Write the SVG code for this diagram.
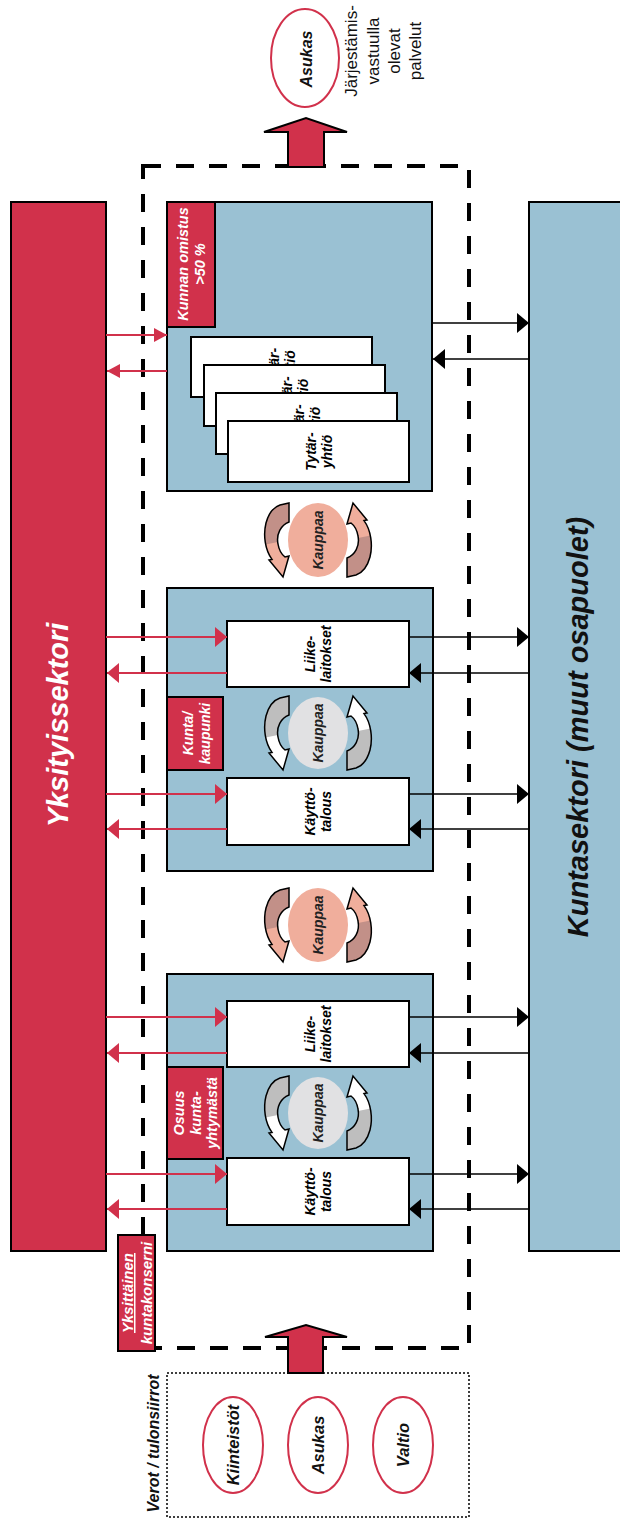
<svg xmlns="http://www.w3.org/2000/svg" width="620" height="1527" viewBox="0 0 620 1527">
<style>
text{font-family:"Liberation Sans",Arial,sans-serif}
.bi{font-weight:bold;font-style:italic}
.red{fill:#D1314B;stroke:#000;stroke-width:2}
.blue{fill:#9AC1D3;stroke:#000;stroke-width:2}
.wbox{fill:#fff;stroke:#000;stroke-width:2}
.wt{fill:#fff}
.rl{stroke:#D1314B;stroke-width:2;fill:none}
.bl{stroke:#000;stroke-width:1.5;fill:none}
.oval{fill:#fff;stroke:#D1314B;stroke-width:2}
.bigarrow{fill:#D1314B;stroke:#000;stroke-width:2;stroke-linejoin:miter}
</style>
<defs>
<marker id="rh" viewBox="0 0 12 20" refX="12" refY="10" markerWidth="12" markerHeight="20" markerUnits="userSpaceOnUse" orient="auto"><path d="M0,0L12,10L0,20Z" fill="#D1314B"/></marker>
<marker id="rhs" viewBox="0 0 13 14" refX="13" refY="7" markerWidth="13" markerHeight="14" markerUnits="userSpaceOnUse" orient="auto"><path d="M0,0L13,7L0,14Z" fill="#D1314B"/></marker>
<marker id="bh" viewBox="0 0 12 20" refX="12" refY="10" markerWidth="12" markerHeight="20" markerUnits="userSpaceOnUse" orient="auto"><path d="M0,0L12,10L0,20Z" fill="#000"/></marker>
<clipPath id="ctop"><polygon points="-60,-45 -20,-45 -20,-2 -60,6"/></clipPath>
<path id="curl" d="M-38,-35 L-29,-37 L-29,-18 C-37,-15 -42,-6 -40,4 C-39,10 -37,14 -33,17 L-29,16 L-35,37 L-49,20 L-46,19.4 C-53,10 -55,-5 -52,-17 C-49,-28 -44,-33 -38,-35Z"/>
<g id="curlS"><use href="#curl" fill="#F0AE9C"/><use href="#curl" fill="#C29088" clip-path="url(#ctop)"/><use href="#curl" fill="none" stroke="#000" stroke-width="1.5"/></g>
<g id="curlG"><use href="#curl" fill="#fff"/><use href="#curl" fill="#BEBEBE" clip-path="url(#ctop)"/><use href="#curl" fill="none" stroke="#000" stroke-width="1.5"/></g>
</defs>

<g id="yksityissektori">
<rect x="11" y="202" width="95" height="1049" class="red" stroke-width="1.5"/>
<text class="bi wt" font-size="29" text-anchor="middle" transform="translate(68,725) rotate(-90)">Yksityissektori</text>
</g>

<g id="kuntasektori">
<rect x="529" y="202" width="95" height="1049" class="blue" stroke-width="1.5"/>
<text class="bi" font-size="29" fill="#111" text-anchor="middle" transform="translate(588,727) rotate(-90)">Kuntasektori (muut osapuolet)</text>
</g>

<g id="kuntakonserni-raja">
<rect x="143" y="166" width="326" height="1182" fill="none" stroke="#000" stroke-width="4" stroke-dasharray="18 15"/>
</g>

<g id="tytaryhtiot">
<rect x="167" y="202" width="265" height="289" class="blue"/>
<rect x="191" y="337" width="181" height="60" class="wbox"/>
<text class="bi" font-size="14" text-anchor="middle" transform="translate(281.5,367) rotate(-90)"><tspan x="0" y="-3">Tytär-</tspan><tspan x="0" y="13">yhtiö</tspan></text>
<rect x="204" y="365" width="181" height="61" class="wbox"/>
<text class="bi" font-size="14" text-anchor="middle" transform="translate(294.5,395.5) rotate(-90)"><tspan x="0" y="-3">Tytär-</tspan><tspan x="0" y="13">yhtiö</tspan></text>
<rect x="216" y="393" width="181" height="61" class="wbox"/>
<text class="bi" font-size="14" text-anchor="middle" transform="translate(306.5,423.5) rotate(-90)"><tspan x="0" y="-3">Tytär-</tspan><tspan x="0" y="13">yhtiö</tspan></text>
<rect x="228" y="421" width="181" height="61" class="wbox"/>
<text class="bi" font-size="14" text-anchor="middle" transform="translate(318.5,451.5) rotate(-90)"><tspan x="0" y="-3">Tytär-</tspan><tspan x="0" y="13">yhtiö</tspan></text>
<rect x="167" y="202" width="48" height="125" class="red"/>
<text class="bi wt" font-size="14.5" text-anchor="middle" transform="translate(191,264) rotate(-90)"><tspan x="0" y="-3">Kunnan omistus</tspan><tspan x="0" y="14">&gt;50 %</tspan></text>
</g>

<g id="kauppaa-1">
<use href="#curlS" transform="translate(318,540)"/>
<use href="#curlS" transform="translate(318,540) rotate(180)"/>
<ellipse cx="318" cy="540" rx="30" ry="37" fill="#F0AE9C"/>
<text class="bi" font-size="14" fill="#222" text-anchor="middle" transform="translate(323,540) rotate(-90)">Kauppaa</text>
</g>

<g id="kunta-kaupunki">
<rect x="167" y="588" width="266" height="283" class="blue"/>
<rect x="227" y="621" width="182" height="66" class="wbox"/>
<text class="bi" font-size="14" text-anchor="middle" transform="translate(318,654) rotate(-90)"><tspan x="0" y="-3">Liike-</tspan><tspan x="0" y="13">laitokset</tspan></text>
<rect x="227" y="778" width="182" height="67" class="wbox"/>
<text class="bi" font-size="14" text-anchor="middle" transform="translate(318,811.5) rotate(-90)"><tspan x="0" y="-3">Käyttö-</tspan><tspan x="0" y="13">talous</tspan></text>
<rect x="167" y="697" width="56" height="73" class="red"/>
<text class="bi wt" font-size="14" text-anchor="middle" transform="translate(195,733.5) rotate(-90)"><tspan x="0" y="-2">Kunta/</tspan><tspan x="0" y="15">kaupunki</tspan></text>
<use href="#curlG" transform="translate(318,733)"/>
<use href="#curlG" transform="translate(318,733) rotate(180)"/>
<ellipse cx="318" cy="733" rx="30" ry="36" fill="#E1E1E3"/>
<text class="bi" font-size="14" fill="#222" text-anchor="middle" transform="translate(323,733) rotate(-90)">Kauppaa</text>
</g>

<g id="kauppaa-2">
<use href="#curlS" transform="translate(318,925)"/>
<use href="#curlS" transform="translate(318,925) rotate(180)"/>
<ellipse cx="318" cy="925" rx="30" ry="37" fill="#F0AE9C"/>
<text class="bi" font-size="14" fill="#222" text-anchor="middle" transform="translate(323,925) rotate(-90)">Kauppaa</text>
</g>

<g id="kuntayhtyma">
<rect x="167" y="974" width="266" height="277" class="blue"/>
<rect x="227" y="1001" width="182" height="66" class="wbox"/>
<text class="bi" font-size="14" text-anchor="middle" transform="translate(318,1034) rotate(-90)"><tspan x="0" y="-3">Liike-</tspan><tspan x="0" y="13">laitokset</tspan></text>
<rect x="227" y="1158" width="182" height="67" class="wbox"/>
<text class="bi" font-size="14" text-anchor="middle" transform="translate(318,1191.5) rotate(-90)"><tspan x="0" y="-3">Käyttö-</tspan><tspan x="0" y="13">talous</tspan></text>
<rect x="167" y="1067" width="56" height="92" class="red"/>
<text class="bi wt" font-size="14.5" text-anchor="middle" transform="translate(195,1113) rotate(-90)"><tspan x="0" y="-11">Osuus</tspan><tspan x="0" y="5.5">kunta-</tspan><tspan x="0" y="22">yhtymästä</tspan></text>
<use href="#curlG" transform="translate(318,1113)"/>
<use href="#curlG" transform="translate(318,1113) rotate(180)"/>
<ellipse cx="318" cy="1113" rx="30" ry="36" fill="#E1E1E3"/>
<text class="bi" font-size="14" fill="#222" text-anchor="middle" transform="translate(323,1113) rotate(-90)">Kauppaa</text>
</g>

<g id="yksittainen-kuntakonserni">
<rect x="118" y="1235" width="37" height="116" class="red"/>
<text class="bi wt" font-size="15" text-anchor="middle" transform="translate(136.5,1293) rotate(-90)"><tspan x="0" y="-3.5" text-decoration="underline">Yksittäinen</tspan><tspan x="0" y="15.5">kuntakonserni</tspan></text>
</g>

<g id="connectors">
<line x1="106" y1="335" x2="167" y2="335" class="rl" marker-end="url(#rhs)"/>
<line x1="167" y1="371" x2="107" y2="371" class="rl" marker-end="url(#rhs)"/>
<line x1="106" y1="637" x2="227" y2="637" class="rl" marker-end="url(#rh)"/>
<line x1="227" y1="673" x2="107" y2="673" class="rl" marker-end="url(#rh)"/>
<line x1="106" y1="794" x2="227" y2="794" class="rl" marker-end="url(#rh)"/>
<line x1="227" y1="829" x2="107" y2="829" class="rl" marker-end="url(#rh)"/>
<line x1="106" y1="1017" x2="227" y2="1017" class="rl" marker-end="url(#rh)"/>
<line x1="227" y1="1053" x2="107" y2="1053" class="rl" marker-end="url(#rh)"/>
<line x1="106" y1="1174" x2="227" y2="1174" class="rl" marker-end="url(#rh)"/>
<line x1="227" y1="1209" x2="107" y2="1209" class="rl" marker-end="url(#rh)"/>
<line x1="432" y1="323" x2="529" y2="323" class="bl" marker-end="url(#bh)"/>
<line x1="529" y1="359" x2="433" y2="359" class="bl" marker-end="url(#bh)"/>
<line x1="409" y1="637" x2="529" y2="637" class="bl" marker-end="url(#bh)"/>
<line x1="529" y1="673" x2="409" y2="673" class="bl" marker-end="url(#bh)"/>
<line x1="409" y1="794" x2="529" y2="794" class="bl" marker-end="url(#bh)"/>
<line x1="529" y1="829" x2="409" y2="829" class="bl" marker-end="url(#bh)"/>
<line x1="409" y1="1017" x2="529" y2="1017" class="bl" marker-end="url(#bh)"/>
<line x1="529" y1="1053" x2="409" y2="1053" class="bl" marker-end="url(#bh)"/>
<line x1="409" y1="1174" x2="529" y2="1174" class="bl" marker-end="url(#bh)"/>
<line x1="529" y1="1209" x2="409" y2="1209" class="bl" marker-end="url(#bh)"/>
<polygon class="bigarrow" points="288,167 288,132 264,132 306,118 347,132 324,132 324,167"/>
<polygon class="bigarrow" points="288,1373 288,1337 265,1337 306,1325 347,1337 323,1337 323,1373"/>
</g>

<g id="asukas-palvelut">
<ellipse cx="305" cy="58" rx="34" ry="49" class="oval"/>
<text class="bi" font-size="16" fill="#111" text-anchor="middle" transform="translate(312,59) rotate(-90)">Asukas</text>
<text font-size="17" fill="#111" text-anchor="middle" transform="translate(357,51) rotate(-90)"><tspan x="0" y="0">Järjestämis-</tspan><tspan x="0" y="22">vastuulla</tspan><tspan x="0" y="43">olevat</tspan><tspan x="0" y="64">palvelut</tspan></text>
</g>

<g id="verot-tulonsiirrot">
<rect x="167" y="1373" width="302" height="144" fill="none" stroke="#000" stroke-width="1.5" stroke-dasharray="2 2"/>
<text class="bi" font-size="16" fill="#111" text-anchor="middle" transform="translate(159,1443.5) rotate(-90)">Verot / tulonsiirrot</text>
<ellipse cx="233" cy="1445" rx="30" ry="48" class="oval"/>
<text class="bi" font-size="16.5" fill="#111" text-anchor="middle" transform="translate(239,1445) rotate(-90)">Kiinteistöt</text>
<ellipse cx="318" cy="1445" rx="30" ry="48" class="oval"/>
<text class="bi" font-size="16.5" fill="#111" text-anchor="middle" transform="translate(324,1445) rotate(-90)">Asukas</text>
<ellipse cx="403" cy="1445" rx="30" ry="48" class="oval"/>
<text class="bi" font-size="16.5" fill="#111" text-anchor="middle" transform="translate(409,1445) rotate(-90)">Valtio</text>
</g>
</svg>
